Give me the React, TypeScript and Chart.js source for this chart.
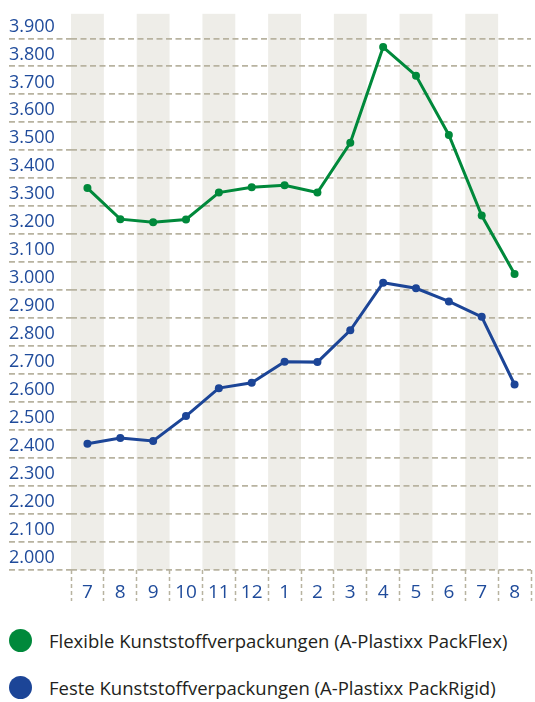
import React, { useEffect, useRef } from "react";
import { Chart, registerables } from "chart.js";

Chart.register(...registerables);

const months = ["7", "8", "9", "10", "11", "12", "1", "2", "3", "4", "5", "6", "7", "8"];
const flexValues = [3365, 3254, 3243, 3253, 3349, 3368, 3375, 3349, 3527, 3869, 3767, 3555, 3267, 3058];
const rigidValues = [2451, 2472, 2461, 2550, 2650, 2669, 2744, 2743, 2857, 3027, 3007, 2960, 2905, 2663];
const flexLabel = "Flexible Kunststoffverpackungen (A-Plastixx PackFlex)";
const rigidLabel = "Feste Kunststoffverpackungen (A-Plastixx PackRigid)";
const yMin = 2000;
const yMax = 3988;
const yTopTick = 3900;
const yStep = 100;

const GREEN = "#00893b";
const BLUE = "#1c4597";
const LABEL_BLUE = "#1f4b9b";
const GRID = "#b8b3a0";
const BAND = "#eeede8";
const FONT = "'Open Sans', 'Noto Sans', sans-serif";

const fmt = (v: number) => String(v).replace(/\B(?=(\d{3})+(?!\d))/g, ".");

const bandPlugin = {
  id: "bands",
  beforeDraw(chart: any) {
    const { ctx, chartArea, scales } = chart;
    const x = scales.x;
    const w = (chartArea.right - chartArea.left) / months.length;
    ctx.save();
    ctx.fillStyle = BAND;
    for (let i = 0; i < months.length; i += 2) {
      const cx = x.getPixelForValue(i);
      ctx.fillRect(cx - w / 2, chartArea.top, w, chartArea.bottom - chartArea.top);
    }
    ctx.restore();
  },
};

function LineChart() {
  const ref = useRef<HTMLCanvasElement | null>(null);
  useEffect(() => {
    if (!ref.current) return;
    const chart = new Chart(ref.current, {
      type: "line",
      data: {
        labels: months,
        datasets: [
          {
            label: flexLabel,
            data: flexValues,
            borderColor: GREEN,
            backgroundColor: GREEN,
            borderWidth: 3,
            pointRadius: 4,
            pointBorderWidth: 0,
            pointBackgroundColor: GREEN,
            tension: 0,
          },
          {
            label: rigidLabel,
            data: rigidValues,
            borderColor: BLUE,
            backgroundColor: BLUE,
            borderWidth: 3,
            pointRadius: 4,
            pointBorderWidth: 0,
            pointBackgroundColor: BLUE,
            tension: 0,
          },
        ],
      },
      options: {
        responsive: false,
        animation: false,
        layout: { padding: { left: 9, top: 6, right: 0, bottom: 0 } },
        plugins: { legend: { display: false }, tooltip: { enabled: false } },
        scales: {
          x: {
            offset: true,
            border: { display: false },
            grid: {
              offset: true,
              drawOnChartArea: false,
              drawTicks: true,
              tickLength: 31,
              tickColor: GRID,
              tickWidth: 1.5,
              tickBorderDash: [4, 3],
            },
            ticks: {
              color: LABEL_BLUE,
              font: { family: FONT, size: 19 },
              padding: -20,
              maxRotation: 0,
              autoSkip: false,
            },
            afterFit: (s: any) => {
              s.height = 40;
            },
          },
          y: {
            min: yMin,
            max: yMax,
            border: { display: false, dash: [6, 3.5] },
            grid: {
              color: GRID,
              lineWidth: 1.8,
              drawTicks: true,
              tickLength: 62,
              tickColor: GRID,
              tickWidth: 1.8,
              tickBorderDash: [6, 3.5],
            },
            ticks: {
              stepSize: yStep,
              color: LABEL_BLUE,
              font: { family: FONT, size: 18 },
              crossAlign: "far",
              labelOffset: -12,
              callback: (v: any) => fmt(Number(v)),
            },
            afterBuildTicks: (s: any) => {
              s.ticks = s.ticks.filter((t: any) => t.value % yStep === 0 && t.value <= yTopTick);
            },
            afterFit: (s: any) => {
              s.width = 62;
            },
          },
        },
      },
      plugins: [bandPlugin],
    });
    return () => chart.destroy();
  }, []);
  return <canvas ref={ref} width={535} height={610} style={{ display: "block", width: 535, height: 610 }} />;
}

function LegendRow({ color, text, top }: { color: string; text: string; top: number }) {
  return (
    <div style={{ position: "absolute", left: 0, top, height: 23, width: 535 }}>
      <span
        style={{
          position: "absolute",
          left: 9,
          top: 0,
          width: 23,
          height: 23,
          borderRadius: "50%",
          background: color,
        }}
      />
      <span
        style={{
          position: "absolute",
          left: 49,
          top: 0,
          lineHeight: "23px",
          fontFamily: FONT,
          fontSize: 18.5,
          color: "#231f20",
          whiteSpace: "nowrap",
        }}
      >
        {text}
      </span>
    </div>
  );
}

export default function App() {
  return (
    <div style={{ position: "absolute", left: 0, top: 0, width: 535, height: 702, overflow: "hidden", background: "#fff" }}>
      <LineChart />
      <LegendRow color={GREEN} text={flexLabel} top={629} />
      <LegendRow color={BLUE} text={rigidLabel} top={676} />
    </div>
  );
}
